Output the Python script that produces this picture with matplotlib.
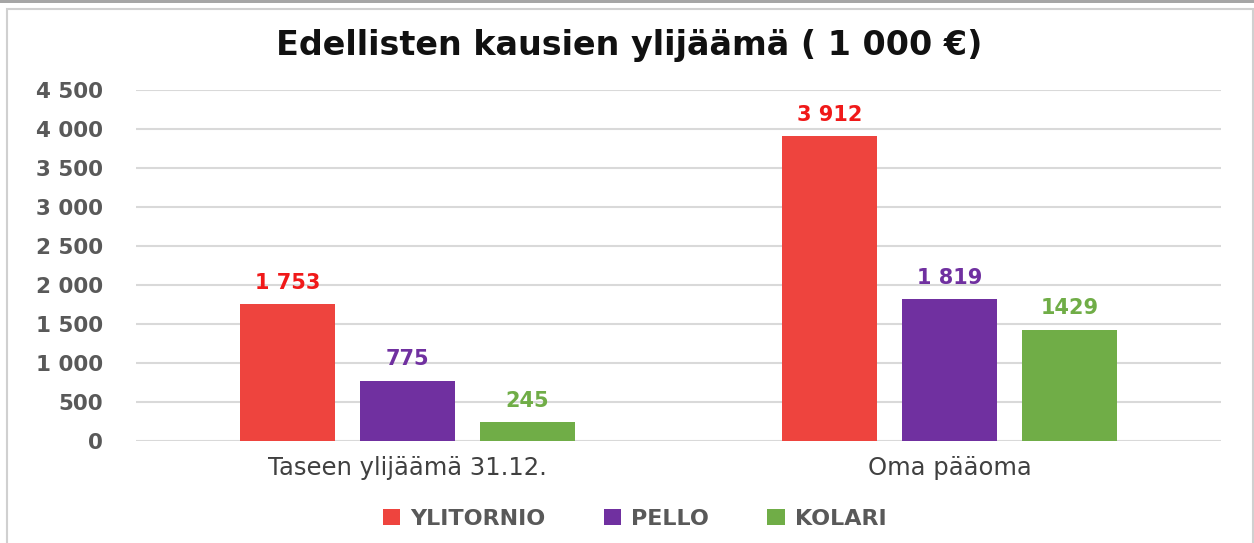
import numpy as np
import matplotlib
matplotlib.use('Agg')
import matplotlib.pyplot as plt
from matplotlib.patches import Rectangle

# data
categories = ['Taseen ylijäämä 31.12.', 'Oma pääoma']
series = ['YLITORNIO', 'PELLO', 'KOLARI']
ylitornio = [1753, 3912]
pello = [775, 1819]
kolari = [245, 1429]
value_labels = [['1 753', '3 912'], ['775', '1 819'], ['245', '1429']]
yticks = [0, 500, 1000, 1500, 2000, 2500, 3000, 3500, 4000, 4500]
ytick_labels = ['0', '500', '1 000', '1 500', '2 000', '2 500', '3 000', '3 500', '4 000', '4 500']

bar_colors = ['#EE443E', '#7030A0', '#70AD47']
label_colors = ['#F01919', '#7030A0', '#70AD47']

plt.rcParams['font.family'] = ['DejaVu Sans']

fig = plt.figure(figsize=(12.54, 5.43), dpi=100)
# frame
fig.patches.append(Rectangle((0, 1 - 3 / 543), 1, 3 / 543, transform=fig.transFigure,
                             facecolor='#a6a6a6', edgecolor='none'))
fig.patches.append(Rectangle((6.5 / 1254, -0.01), (1253 - 6.5) / 1254, 1 - 8.5 / 543 + 0.01,
                             transform=fig.transFigure, facecolor='none',
                             edgecolor='#d0d0d0', linewidth=1.5))

ax = fig.add_axes([136 / 1254, 1 - 441 / 543, (1221 - 136) / 1254, (441 - 90) / 543])

x = np.arange(len(categories))
width = 0.175
step = 0.221
data = [ylitornio, pello, kolari]
for i, (vals, name) in enumerate(zip(data, series)):
    pos = x + (i - 1) * step
    ax.bar(pos, vals, width, color=bar_colors[i], label=name, zorder=2)
    for p, v, t in zip(pos, vals, value_labels[i]):
        ax.annotate(t, (p, v), xytext=(0, 8), textcoords='offset points',
                    ha='center', va='bottom', fontsize=15, fontweight='bold',
                    color=label_colors[i])

ax.set_xlim(-0.5, 1.5)
ax.set_ylim(0, 4500)
ax.set_yticks(yticks)
ax.set_yticklabels(ytick_labels, fontsize=15.5, fontweight='bold', color='#595959')
ax.set_xticks(x)
ax.set_xticklabels(categories, fontsize=17.5, color='#404040')
ax.tick_params(axis='y', length=0, pad=24)
ax.tick_params(axis='x', length=0, pad=11)
ax.yaxis.grid(True, color='#d9d9d9', linewidth=1.5, zorder=0)
ax.set_axisbelow(True)
for s in ax.spines.values():
    s.set_visible(False)

fig.text(0.502, 1 - 45 / 543, 'Edellisten kausien ylijäämä ( 1 000 €)', ha='center', va='center',
         fontsize=24, fontweight='bold', color='#111111')

leg = fig.legend(loc='center', bbox_to_anchor=(0.506, 1 - 519 / 543), ncol=3, frameon=False,
                 handlelength=0.8, handleheight=0.7, columnspacing=2.6,
                 handletextpad=0.45, prop={'weight': 'bold', 'size': 16})
for t in leg.get_texts():
    t.set_color('#595959')

fig.savefig('out.png', dpi=100)
